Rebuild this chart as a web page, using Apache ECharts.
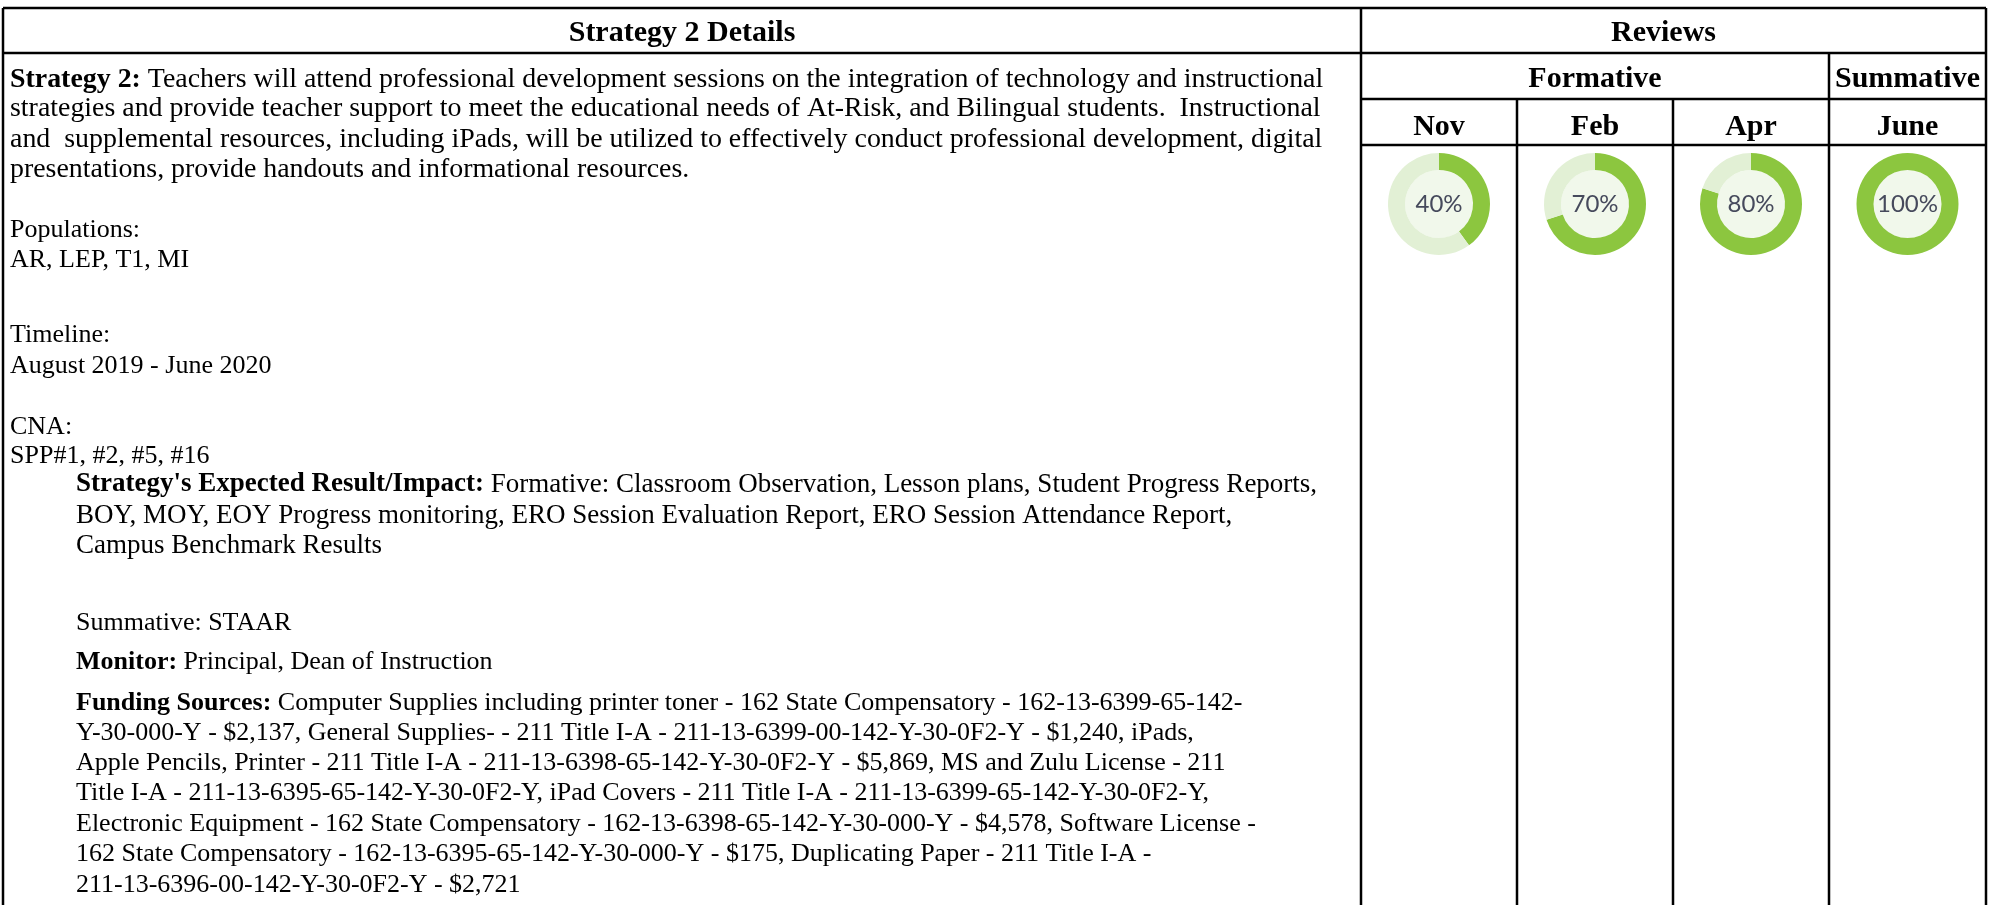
<!DOCTYPE html>
<html>
<head>
<meta charset="utf-8">
<script src="https://cdn.jsdelivr.net/npm/echarts@6/dist/echarts.min.js"></script>
<style>
html,body{margin:0;padding:0;background:#fff;}
#chart{width:1995px;height:905px;}
</style>
</head>
<body>
<div id="chart"></div>
<script>
// ---------- data ----------
const detailHeader = 'Strategy 2 Details';
const reviewHeader = 'Reviews';
const reviewGroups = ['Formative', 'Summative'];
const reviewMonths = ['Nov', 'Feb', 'Apr', 'June'];
const reviewValues = [40, 70, 80, 100];

// each line: [bold lead-in, regular text, indented?]
const detailLines = [
  ['Strategy 2:', ' Teachers will attend professional development sessions on the integration of technology and instructional', false],
  ['', 'strategies and provide teacher support to meet the educational needs of At-Risk, and Bilingual students.  Instructional', false],
  ['', 'and  supplemental resources, including iPads, will be utilized to effectively conduct professional development, digital', false],
  ['', 'presentations, provide handouts and informational resources.', false],
  ['', 'Populations:', false],
  ['', 'AR, LEP, T1, MI', false],
  ['', 'Timeline:', false],
  ['', 'August 2019 - June 2020', false],
  ['', 'CNA:', false],
  ['', 'SPP#1, #2, #5, #16', false],
  ["Strategy's Expected Result/Impact:", ' Formative: Classroom Observation, Lesson plans, Student Progress Reports,', true],
  ['', 'BOY, MOY, EOY Progress monitoring, ERO Session Evaluation Report, ERO Session Attendance Report,', true],
  ['', 'Campus Benchmark Results', true],
  ['', 'Summative: STAAR', true],
  ['Monitor:', ' Principal, Dean of Instruction', true],
  ['Funding Sources:', ' Computer Supplies including printer toner - 162 State Compensatory - 162-13-6399-65-142-', true],
  ['', 'Y-30-000-Y - $2,137, General Supplies- - 211 Title I-A - 211-13-6399-00-142-Y-30-0F2-Y - $1,240, iPads,', true],
  ['', 'Apple Pencils, Printer - 211 Title I-A - 211-13-6398-65-142-Y-30-0F2-Y - $5,869, MS and Zulu License - 211', true],
  ['', 'Title I-A - 211-13-6395-65-142-Y-30-0F2-Y, iPad Covers - 211 Title I-A - 211-13-6399-65-142-Y-30-0F2-Y,', true],
  ['', 'Electronic Equipment - 162 State Compensatory - 162-13-6398-65-142-Y-30-000-Y - $4,578, Software License -', true],
  ['', '162 State Compensatory - 162-13-6395-65-142-Y-30-000-Y - $175, Duplicating Paper - 211 Title I-A -', true],
  ['', '211-13-6396-00-142-Y-30-0F2-Y - $2,721', true]
];

// ---------- layout ----------
const lineY = [79.6, 109, 139.4, 170, 230, 260.5, 335, 366, 427, 456, 484.5, 515.5, 546, 623, 662, 703, 733.6, 763, 793, 824, 854, 885];
const lineSize = [27.9, 27.9, 27.9, 27.9, 26, 26, 26, 26, 26, 26, 27, 27, 27, 26, 26, 26, 26, 26, 26, 26, 26, 26];
const LEFT = 3, RIGHT = 1986, DIV = 1361, TOP = 8, BOTTOM = 905;
const ROW1 = 53, ROW2 = 99, ROW3 = 145;
const monthCols = [1361, 1517, 1673, 1829, 1986];
const textX = 10, indentX = 76;
const serif = '"Liberation Serif", "Times New Roman", serif';
const headSize = 30;
const LW = 2.5;

const graphic = [];
function line(x1, y1, x2, y2) {
  graphic.push({type: 'line', silent: true, shape: {x1, y1, x2, y2}, style: {stroke: '#000', lineWidth: LW}});
}
// grid lines
line(LEFT, TOP, RIGHT, TOP);
line(LEFT, ROW1, RIGHT, ROW1);
line(DIV, ROW2, RIGHT, ROW2);
line(DIV, ROW3, RIGHT, ROW3);
line(LEFT, TOP, LEFT, BOTTOM);
line(DIV, TOP, DIV, BOTTOM);
line(RIGHT, TOP, RIGHT, BOTTOM);
line(monthCols[1], ROW2, monthCols[1], BOTTOM);
line(monthCols[2], ROW2, monthCols[2], BOTTOM);
line(monthCols[3], ROW1, monthCols[3], BOTTOM);

function head(x, y, str) {
  graphic.push({
    type: 'text', silent: true, x, y,
    style: {
      text: str, fill: '#000', fontFamily: serif, fontSize: headSize, fontWeight: 'bold',
      align: 'center', verticalAlign: 'middle', textAlign: 'center', textVerticalAlign: 'middle'
    }
  });
}
// headers
head((LEFT + DIV) / 2, 33, detailHeader);
head((DIV + RIGHT) / 2 - 10, 33, reviewHeader);
head((monthCols[0] + monthCols[3]) / 2, 79.5, reviewGroups[0]);
head((monthCols[3] + monthCols[4]) / 2, 79.5, reviewGroups[1]);
reviewMonths.forEach((m, i) => head((monthCols[i] + monthCols[i + 1]) / 2, 127, m));

// detail lines (rich text for bold lead-in)
detailLines.forEach((d, i) => {
  const [lead, rest, ind] = d;
  const str = lead ? '{b|' + lead + '}' + rest : rest;
  const fs = lineSize[i];
  graphic.push({
    type: 'text', silent: true, x: ind ? indentX : textX, y: lineY[i],
    style: {
      text: str, fill: '#000', fontFamily: serif, fontSize: fs,
      align: 'left', verticalAlign: 'middle', textAlign: 'left', textVerticalAlign: 'middle',
      rich: {b: {fontWeight: 'bold', fontFamily: serif, fontSize: fs, fill: '#000'}}
    }
  });
});

// donuts
const donutY = 204, rOut = 51, rIn = 34;
const series = [];
reviewValues.forEach((v, i) => {
  const cx = (monthCols[i] + monthCols[i + 1]) / 2;
  series.push({
    type: 'pie', silent: true, center: [cx, donutY], radius: [0, rIn],
    label: {show: false}, labelLine: {show: false},
    itemStyle: {color: '#f1f8eb', borderWidth: 0},
    data: [{value: 1, name: reviewMonths[i] + '-bg'}]
  });
  series.push({
    type: 'pie', silent: true, center: [cx, donutY], radius: [rIn, rOut],
    startAngle: 90, clockwise: true,
    label: {show: false}, labelLine: {show: false},
    itemStyle: {borderWidth: 0},
    data: [
      {value: v, name: reviewMonths[i], itemStyle: {color: '#8cc63f'},
       label: {show: true, position: 'center', formatter: v + '%', fontFamily: 'Lato, "Open Sans", sans-serif', fontSize: 24, color: '#464a5c'}},
      {value: 100 - v, name: reviewMonths[i] + '-rest', itemStyle: {color: '#e2f0d5'}, label: {show: false}}
    ]
  });
});

const chart = echarts.init(document.getElementById('chart'), null, {renderer: 'canvas'});
chart.setOption({
  animation: false,
  backgroundColor: '#fff',
  graphic: graphic,
  series: series
});
</script>
</body>
</html>
